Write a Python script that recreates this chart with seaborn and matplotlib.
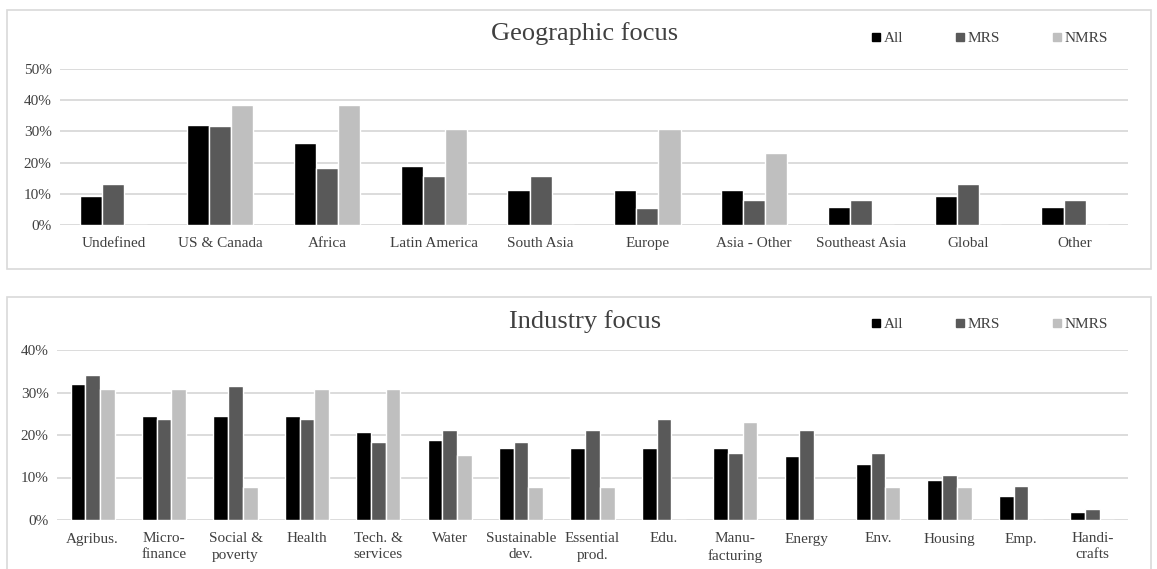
import pandas as pd
import numpy as np
import seaborn as sns
import matplotlib.pyplot as plt
from matplotlib.patches import Rectangle
from matplotlib.lines import Line2D
from matplotlib.ticker import PercentFormatter

# Data (shares, %)
groups = ["All", "MRS", "NMRS"]
colors = ["#000000", "#595959", "#bfbfbf"]

geo_cats = ["Undefined", "US & Canada", "Africa", "Latin America", "South Asia",
            "Europe", "Asia - Other", "Southeast Asia", "Global", "Other"]
geo_all = [9.4, 32.1, 26.4, 18.9, 11.3, 11.3, 11.3, 5.7, 9.4, 5.7]
geo_mrs = [13.2, 31.6, 18.4, 15.8, 15.8, 5.3, 7.9, 7.9, 13.2, 7.9]
geo_nmrs = [0, 38.5, 38.5, 30.8, 0, 30.8, 23.1, 0, 0, 0]

ind_cats = ["Agribus.", "Micro-\nfinance", "Social &\npoverty", "Health", "Tech. &\nservices",
            "Water", "Sustainable\ndev.", "Essential\nprod.", "Edu.", "Manu-\nfacturing",
            "Energy", "Env.", "Housing", "Emp.", "Handi-\ncrafts"]
ind_all = [32.1, 24.5, 24.5, 24.5, 20.8, 18.9, 17.0, 17.0, 17.0, 17.0, 15.1, 13.2, 9.4, 5.7, 1.9]
ind_mrs = [34.2, 23.7, 31.6, 23.7, 18.4, 21.1, 18.4, 21.1, 23.7, 15.8, 21.1, 15.8, 10.5, 7.9, 2.6]
ind_nmrs = [30.8, 30.8, 7.7, 30.8, 30.8, 15.4, 7.7, 7.7, 0, 23.1, 0, 7.7, 7.7, 0, 0]


def long_df(cats, a, m, n):
    rows = []
    for vals, g in zip([a, m, n], groups):
        for c, v in zip(cats, vals):
            rows.append({"cat": c, "group": g, "val": v})
    return pd.DataFrame(rows)


sns.set_style("white")
plt.rcParams["font.family"] = ["Liberation Serif", "DejaVu Serif"]

W, H = 1157, 569
fig = plt.figure(figsize=(W / 100, H / 100), dpi=100)

# panel frames
for (x0, y0, x1, y1) in [(7, 10, 1151, 269), (7, 297, 1151, 575)]:
    fig.patches.append(Rectangle((x0 / W, 1 - y1 / H), (x1 - x0) / W, (y1 - y0) / H,
                                 transform=fig.transFigure, fill=False,
                                 edgecolor="#d9d9d9", linewidth=1.2))

grid_c = "#d9d9d9"
text_c = "#404040"


def draw(ax, df, ymax, title, title_y, legend_y):
    sns.barplot(data=df, x="cat", y="val", hue="group", palette=colors,
                width=0.62, edgecolor="white", linewidth=1.0, ax=ax, legend=False)
    ax.set_ylim(0, ymax)
    ax.set_yticks(np.arange(0, ymax + 1, 10))
    ax.yaxis.set_major_formatter(PercentFormatter(decimals=0))
    ax.set_xlim(-0.5, len(df["cat"].unique()) - 0.5)
    ax.set_xlabel("")
    ax.set_ylabel("")
    sns.despine(ax=ax, left=True, bottom=True)
    ax.grid(axis="y", color=grid_c, linewidth=1.3)
    ax.set_axisbelow(True)
    ax.tick_params(axis="both", length=0, labelsize=11, colors=text_c)
    ax.tick_params(axis="x", pad=9)
    ax.tick_params(axis="y", pad=6)
    for lab in ax.get_xticklabels():
        lab.set_multialignment("center")
        lab.set_linespacing(1.3)
    fig.text(585 / W, 1 - title_y / H, title, ha="center", va="center",
             fontsize=19, color=text_c)
    handles = [Line2D([], [], marker="s", linestyle="", color=c, markersize=6) for c in colors]
    fig.legend(handles, groups, loc="center left", bbox_to_anchor=(855 / W, 1 - legend_y / H),
               ncol=3, frameon=False, fontsize=11, handletextpad=0.0, handlelength=1.0,
               columnspacing=3.2, labelcolor=text_c)


ax1 = fig.add_axes([60 / W, 1 - 225 / H, 1068 / W, 156 / H])
draw(ax1, long_df(geo_cats, geo_all, geo_mrs, geo_nmrs), 50, "Geographic focus", 34, 38)

ax2 = fig.add_axes([57 / W, 1 - 520 / H, 1071 / W, 170 / H])
draw(ax2, long_df(ind_cats, ind_all, ind_mrs, ind_nmrs), 40, "Industry focus", 322, 324)

fig.savefig("out.png", dpi=100)
